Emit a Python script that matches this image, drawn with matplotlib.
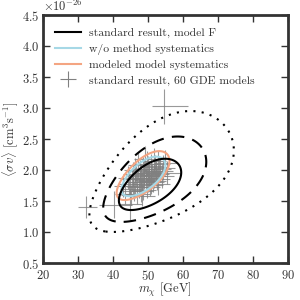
import numpy as np
import matplotlib
matplotlib.use("Agg")
import matplotlib.pyplot as plt
from matplotlib.lines import Line2D

plt.rcParams["font.family"] = "serif"
plt.rcParams["font.serif"] = ["cmr10", "DejaVu Serif"]
plt.rcParams["mathtext.fontset"] = "cm"
plt.rcParams["axes.formatter.use_mathtext"] = True

# contour parameters (log-normal fits): center m, center <sv> (1e-26), sigma ln m, sigma ln sv, correlation
fit_std = [49.9, 1.72, 0.117, 0.157, 0.55]
fit_nomethod = [48.4, 1.87, 0.085, 0.112, 0.62]
fit_modeled = [48.1, 1.87, 0.103, 0.138, 0.66]
dchi2_levels = [2.30, 6.18, 11.83]

# 60 GDE models: best fit and errors
mchi = [32.4, 54.8, 40.5, 45.0, 43.5, 45.0, 46.0, 46.5, 47.5, 48.0,
        48.5, 49.0, 49.5, 50.0, 50.5, 51.0, 51.5, 52.0, 52.5, 53.0,
        53.5, 54.5, 55.5, 45.5, 47.0, 47.7, 48.8, 49.7, 50.7, 51.7,
        52.7, 46.7, 48.3, 50.3, 44.7, 46.3, 49.3, 51.3, 54.0, 43.0,
        44.3, 47.3, 49.9, 52.3, 55.0, 47.9, 45.7, 49.1, 50.9, 53.3,
        45.3, 46.9, 50.1, 51.9, 48.7, 48.1, 51.1, 45.9, 52.9, 49.5]
sigv = [1.40, 3.03, 1.44, 1.45, 1.62, 1.70, 1.66, 1.80, 1.72, 1.90,
        1.78, 1.95, 1.84, 2.02, 1.88, 1.97, 1.83, 2.05, 1.94, 2.10,
        1.99, 2.04, 1.96, 1.85, 1.62, 1.98, 1.68, 2.10, 1.76, 2.15,
        1.86, 1.92, 1.58, 1.95, 1.78, 2.00, 2.18, 1.92, 1.90, 1.74,
        1.88, 2.08, 1.72, 1.99, 2.12, 1.80, 1.74, 1.88, 2.06, 2.02,
        1.60, 1.86, 1.82, 1.90, 2.02, 1.66, 1.80, 1.94, 1.78, 1.96]
mchi_lo = [2.4, 3.6, 4.5, 3.0, 2.8, 3.0, 3.2, 3.0, 3.4, 3.0,
           3.2, 3.0, 3.4, 3.0, 3.2, 3.0, 3.4, 3.0, 3.2, 3.0,
           3.2, 3.0, 3.2, 3.0, 3.4, 3.0, 3.2, 3.0, 3.4, 3.0,
           3.2, 3.0, 3.4, 3.0, 2.8, 3.0, 3.2, 3.0, 3.2, 2.6,
           2.8, 3.0, 3.2, 3.0, 3.2, 3.0, 2.8, 3.0, 3.2, 3.0,
           2.8, 3.0, 3.2, 3.0, 3.2, 3.0, 3.2, 2.8, 3.0, 3.2]
mchi_hi = [3.0, 6.6, 5.0, 3.4, 3.2, 3.4, 3.6, 3.4, 3.8, 3.4,
           3.6, 3.4, 3.8, 3.4, 3.6, 3.4, 3.8, 3.4, 3.6, 3.4,
           3.6, 3.4, 3.6, 3.4, 3.8, 3.4, 3.6, 3.4, 3.8, 3.4,
           3.6, 3.4, 3.8, 3.4, 3.2, 3.4, 3.6, 3.4, 3.6, 3.0,
           3.2, 3.4, 3.6, 3.4, 3.6, 3.4, 3.2, 3.4, 3.6, 3.4,
           3.2, 3.4, 3.6, 3.4, 3.6, 3.4, 3.6, 3.2, 3.4, 3.6]
sigv_err = [0.18, 0.28, 0.22, 0.25, 0.16, 0.17, 0.16, 0.18, 0.17, 0.19,
            0.18, 0.19, 0.18, 0.20, 0.18, 0.19, 0.18, 0.20, 0.19, 0.20,
            0.19, 0.20, 0.19, 0.18, 0.16, 0.19, 0.17, 0.20, 0.18, 0.21,
            0.18, 0.19, 0.16, 0.19, 0.17, 0.19, 0.21, 0.19, 0.19, 0.17,
            0.18, 0.20, 0.17, 0.19, 0.20, 0.18, 0.17, 0.18, 0.20, 0.19,
            0.16, 0.18, 0.18, 0.19, 0.19, 0.17, 0.18, 0.19, 0.18, 0.19]

x_ticks = [20, 30, 40, 50, 60, 70, 80, 90]
y_ticks = [0.5, 1.0, 1.5, 2.0, 2.5, 3.0, 3.5, 4.0, 4.5]

SCALE = 1e-26
INK = "#333333"

fig = plt.figure(figsize=(3, 3), dpi=100)
ax = fig.add_axes([0.142, 0.123, 0.817, 0.827])

# gray crosses
ax.errorbar(mchi, np.array(sigv) * SCALE,
            xerr=[mchi_lo, mchi_hi], yerr=np.array(sigv_err) * SCALE,
            fmt="none", ecolor="gray", elinewidth=0.8, alpha=0.8, zorder=1)

# likelihood contours
mg = np.linspace(20, 90, 400)
sg = np.linspace(0.5, 4.5, 400)
M, S = np.meshgrid(mg, sg)


def chi2(fit):
    m0, s0, sx, sy, rho = fit
    u = (np.log(M) - np.log(m0)) / sx
    v = (np.log(S) - np.log(s0)) / sy
    return (u * u - 2 * rho * u * v + v * v) / (1 - rho * rho)


ax.contour(M, S * SCALE, chi2(fit_std), levels=dchi2_levels, colors="black",
           linestyles=["solid", (0, (6, 4)), (0, (1, 3))], linewidths=1.5, zorder=3)
ax.contour(M, S * SCALE, chi2(fit_modeled), levels=dchi2_levels[:1],
           colors="#f4a582", linewidths=1.5, zorder=2)
ax.contour(M, S * SCALE, chi2(fit_nomethod), levels=dchi2_levels[:1],
           colors="#a6d8e6", linewidths=1.5, zorder=2)

ax.set_xlim(20, 90)
ax.set_ylim(0.5 * SCALE, 4.5 * SCALE)
ax.set_xticks(x_ticks)
ax.set_yticks(np.array(y_ticks) * SCALE)
ax.tick_params(direction="in", top=True, right=True, length=5, width=1,
               labelsize=9, pad=2, colors=INK, labelcolor=INK)
ax.tick_params(axis="x", pad=4)
ax.yaxis.get_offset_text().set_fontsize(9)
ax.yaxis.get_offset_text().set_color(INK)
for sp in ax.spines.values():
    sp.set_linewidth(2)
    sp.set_color(INK)

ax.set_xlabel(r"$m_\chi$ [GeV]", fontsize=9, color=INK, labelpad=-1)
ax.set_ylabel(r"$\langle\sigma v\rangle$ [cm$^3$s$^{-1}$]", fontsize=9,
              color=INK, labelpad=1)

handles = [
    Line2D([], [], color="black", lw=1.5),
    Line2D([], [], color="#a6d8e6", lw=1.5),
    Line2D([], [], color="#f4a582", lw=1.5),
    Line2D([], [], color="gray", marker="+", ms=12, mew=0.8, ls="none"),
]
labels = ["standard result, model F", "w/o method systematics",
          "modeled model systematics", "standard result, 60 GDE models"]
leg = ax.legend(handles, labels, loc="upper left", frameon=False, fontsize=8.4,
                handlelength=2.2, handletextpad=0.7, labelspacing=0.45,
                borderaxespad=0.7)
for t in leg.get_texts():
    t.set_color(INK)

fig.savefig("out.png", dpi=100)
